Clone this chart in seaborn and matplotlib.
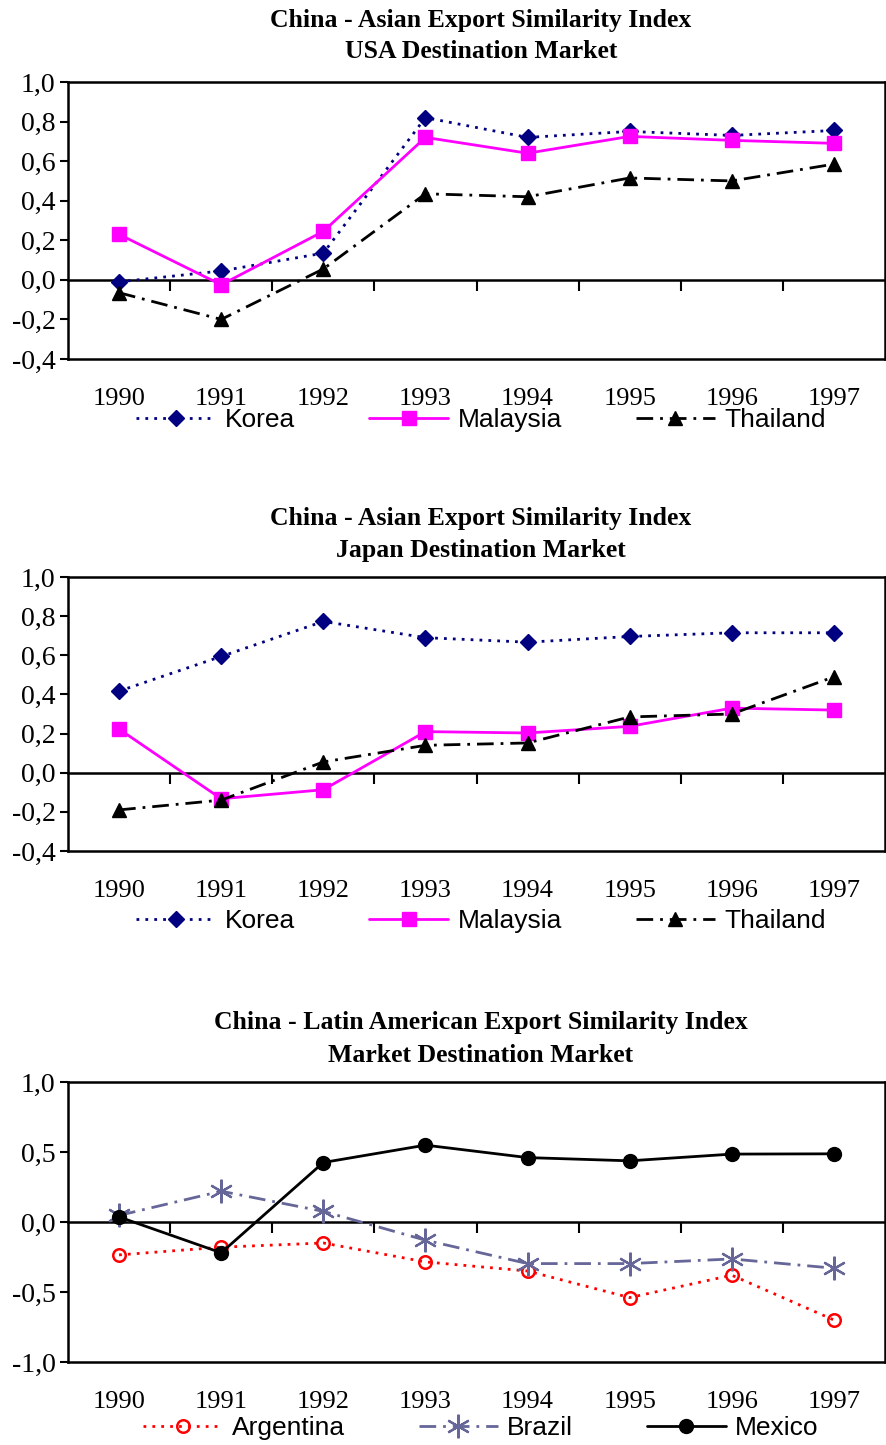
import numpy as np
import pandas as pd
import matplotlib
matplotlib.use("Agg")
import matplotlib.pyplot as plt
from matplotlib.ticker import FuncFormatter
import seaborn as sns

# ── Data ─────────────────────────────────────────────────────────────────────
years = [1990, 1991, 1992, 1993, 1994, 1995, 1996, 1997]

usa_korea    = [-0.01, 0.045, 0.135, 0.82, 0.72, 0.75, 0.73, 0.755]
usa_malaysia = [0.23, -0.025, 0.245, 0.72, 0.64, 0.725, 0.705, 0.69]
usa_thailand = [-0.065, -0.20, 0.055, 0.435, 0.42, 0.515, 0.50, 0.585]

jpn_korea    = [0.417, 0.594, 0.773, 0.69, 0.667, 0.696, 0.715, 0.715]
jpn_malaysia = [0.223, -0.133, -0.087, 0.21, 0.203, 0.237, 0.33, 0.32]
jpn_thailand = [-0.19, -0.14, 0.055, 0.14, 0.152, 0.285, 0.30, 0.49]

lat_argentina = [-0.235, -0.18, -0.15, -0.285, -0.35, -0.54, -0.38, -0.70]
lat_brazil    = [0.047, 0.22, 0.076, -0.13, -0.297, -0.297, -0.264, -0.33]
lat_mexico    = [0.036, -0.22, 0.425, 0.549, 0.46, 0.437, 0.485, 0.487]

titles = [
    "China - Asian Export Similarity Index\nUSA Destination Market",
    "China - Asian Export Similarity Index\nJapan Destination Market",
    "China - Latin American Export Similarity Index\nMarket Destination Market",
]

# ── Styles ───────────────────────────────────────────────────────────────────
sns.set_style("white")
plt.rcParams["font.family"] = ["Liberation Serif", "DejaVu Serif"]
plt.rcParams["text.color"] = "black"
plt.rcParams["xtick.color"] = "black"
plt.rcParams["ytick.color"] = "black"
plt.rcParams["axes.labelcolor"] = "black"

ASIA_STYLE = {
    "Korea":    dict(color="#000080", ls=(0, (1, 2.2)), marker="D", ms=8.5, mfc="#000080", mec="#000080"),
    "Malaysia": dict(color="#FF00FF", ls="-", marker="s", ms=10, mfc="#FF00FF", mec="#FF00FF"),
    "Thailand": dict(color="black", ls=(0, (6, 2.5, 1, 2.5)), marker="^", ms=10, mfc="black", mec="black"),
}
LATAM_STYLE = {
    "Argentina": dict(color="#FF0000", ls=(0, (1, 2.2)), marker="o", ms=9, mfc="none", mec="#FF0000", mew=1.8),
    "Brazil":    dict(color="#666699", ls=(0, (6, 2.5, 1, 2.5)), marker=(6, 2, 0), ms=17, mfc="#666699", mec="#666699", mew=1.6),
    "Mexico":    dict(color="black", ls="-", marker="o", ms=10, mfc="black", mec="black"),
}

fig = plt.figure(figsize=(8.86, 14.45), dpi=100)
W, H = 886, 1445


def add_axes(top_px, bottom_px):
    return fig.add_axes([68 / W, 1 - bottom_px / H, 817 / W, (bottom_px - top_px) / H])


def draw_panel(ax, series, styles, ylim, ystep, title, legend_y_px, title_y_px):
    for name, vals in series.items():
        st = styles[name]
        df = pd.DataFrame({"Year": years, "Value": vals})
        sns.lineplot(data=df, x="Year", y="Value", ax=ax, color=st["color"], linewidth=2,
                     linestyle=st["ls"], marker=st["marker"], markersize=st["ms"],
                     markerfacecolor=st["mfc"], markeredgecolor=st["mec"],
                     markeredgewidth=st.get("mew", 1), label=name, legend=False)

    ax.set_xlim(years[0] - 0.5, years[-1] + 0.5)
    ax.set_ylim(*ylim)
    ax.set_xticks(years)
    ax.set_xticklabels([str(y) for y in years])
    ax.tick_params(axis="x", length=0, pad=21, labelsize=19)
    ax.set_yticks(np.round(np.arange(ylim[0], ylim[1] + 1e-9, ystep), 2))
    ax.yaxis.set_major_formatter(FuncFormatter(lambda v, p: f"{v:.1f}".replace(".", ",").replace("-0,0", "0,0")))
    ax.tick_params(axis="y", direction="out", length=6, width=1.5, labelsize=20, pad=3, left=True)
    ax.set_xlabel("")
    ax.set_ylabel("")
    for sp in ax.spines.values():
        sp.set_visible(True)
        sp.set_color("black")
        sp.set_linewidth(1.8)
    ax.grid(False)

    # zero line with category-boundary ticks
    frac = -ylim[0] / (ylim[1] - ylim[0])
    sec = ax.secondary_xaxis(frac)
    sec.set_alignment("bottom")
    sec.set_xticks([y + 0.5 for y in years[:-1]])
    sec.set_xticklabels([])
    sec.tick_params(axis="x", direction="out", length=8, width=1.5)
    sec.spines["bottom"].set_linewidth(1.8)
    sec.spines["bottom"].set_color("black")

    fig.text(481 / W, 1 - title_y_px / H, title, ha="center", va="center",
             fontsize=18.5, fontweight="bold", linespacing=1.5)

    handles, labels = ax.get_legend_handles_labels()
    ax.legend(handles, labels, loc="center", ncol=3, frameon=False,
              bbox_to_anchor=(481 / W, 1 - legend_y_px / H), bbox_transform=fig.transFigure,
              prop={"family": "Liberation Sans", "size": 19}, handlelength=3.0,
              handletextpad=0.35, columnspacing=2.8, borderaxespad=0)


ax1 = add_axes(82, 359)
draw_panel(ax1, {"Korea": usa_korea, "Malaysia": usa_malaysia, "Thailand": usa_thailand},
           ASIA_STYLE, (-0.4, 1.0), 0.2, titles[0], 420, 36)

ax2 = add_axes(577, 851)
draw_panel(ax2, {"Korea": jpn_korea, "Malaysia": jpn_malaysia, "Thailand": jpn_thailand},
           ASIA_STYLE, (-0.4, 1.0), 0.2, titles[1], 921, 534)

ax3 = add_axes(1082, 1362)
draw_panel(ax3, {"Argentina": lat_argentina, "Brazil": lat_brazil, "Mexico": lat_mexico},
           LATAM_STYLE, (-1.0, 1.0), 0.5, titles[2], 1428, 1039)

fig.savefig("out.png", dpi=100)
